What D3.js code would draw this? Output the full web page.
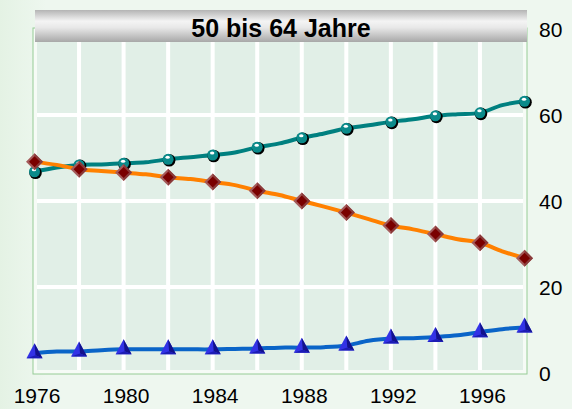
<!DOCTYPE html>
<html>
<head>
<meta charset="utf-8">
<script src="https://cdn.jsdelivr.net/npm/d3@7"></script>
<style>
  body { margin: 0; background: #eef7ef; }
  svg { display: block; font-family: "Liberation Sans", Arial, sans-serif; }
</style>
</head>
<body>
<div id="chart"></div>
<script>
// Data
const years = d3.range(1976, 1999);
const teal = [46.8, 47.8, 48.4, 48.5, 48.8, 49.0, 49.7, 50.2, 50.7, 51.3, 52.5, 53.4,
  54.7, 55.7, 56.9, 57.6, 58.4, 59.0, 59.8, 60.2, 60.5, 62.3, 63.2];
const orange = [49.1, 48.4, 47.4, 47.0, 46.6, 46.2, 45.5, 45.1, 44.4, 43.7, 42.4, 41.4,
  40.0, 38.7, 37.3, 35.8, 34.3, 33.4, 32.3, 31.1, 30.3, 28.3, 26.7];
const blue = [4.6, 5.0, 5.0, 5.3, 5.5, 5.5, 5.5, 5.5, 5.5, 5.6, 5.7, 5.9,
  5.9, 6.0, 6.4, 7.5, 8.0, 8.1, 8.4, 8.8, 9.5, 10.2, 10.6];
const xTicks = [1976, 1980, 1984, 1988, 1992, 1996];
const yTicks = [0, 20, 40, 60, 80];
const gridYears = [1978, 1980, 1982, 1984, 1986, 1988, 1990, 1992, 1994, 1996];
const title = "50 bis 64 Jahre";

const W = 572, H = 409;
const svg = d3.select("#chart").append("svg").attr("width", W).attr("height", H);

const defs = svg.append("defs");
const bg = defs.append("linearGradient").attr("id", "bg").attr("x1", 0).attr("x2", 1);
bg.append("stop").attr("offset", 0).attr("stop-color", "#e4f2e4");
bg.append("stop").attr("offset", 0.08).attr("stop-color", "#eef7ef");
bg.append("stop").attr("offset", 1).attr("stop-color", "#eef7ef");
const tg = defs.append("linearGradient").attr("id", "tg").attr("x1", 0).attr("x2", 0).attr("y1", 0).attr("y2", 1);
tg.append("stop").attr("offset", 0).attr("stop-color", "#b4b4b4");
tg.append("stop").attr("offset", 0.35).attr("stop-color", "#f4f4f4");
tg.append("stop").attr("offset", 0.55).attr("stop-color", "#e8e8e8");
tg.append("stop").attr("offset", 1).attr("stop-color", "#a8a8a8");

svg.append("rect").attr("width", W).attr("height", H).attr("fill", "url(#bg)");

// Scales
const x = d3.scaleLinear().domain([1976, 1998]).range([34.5, 524.5]);
const y = d3.scaleLinear().domain([0, 80]).range([373, 29]);

// Plot area
svg.append("rect")
  .attr("x", 33).attr("y", 28).attr("width", 494).attr("height", 346)
  .attr("fill", "#f6fbf6").attr("stroke", "#96cc96").attr("stroke-width", 1);
svg.append("rect")
  .attr("x", 37).attr("y", 28).attr("width", 486).attr("height", 342)
  .attr("fill", "#e1efe7");

// Grid
svg.append("g").selectAll("line").data(gridYears).join("line")
  .attr("x1", d => x(d)).attr("x2", d => x(d))
  .attr("y1", 28).attr("y2", 370)
  .attr("stroke", "#fff").attr("stroke-width", 4);
svg.append("g").selectAll("line").data([20, 40, 60]).join("line")
  .attr("x1", 37).attr("x2", 523)
  .attr("y1", d => y(d)).attr("y2", d => y(d))
  .attr("stroke", "#fff").attr("stroke-width", 4);

// Lines
const line = d3.line().x((d, i) => x(years[i])).y(d => y(d)).curve(d3.curveCatmullRom);
const series = [
  { values: teal, color: "#008080" },
  { values: orange, color: "#ff8000" },
  { values: blue, color: "#0a64c8" }
];
series.forEach(s => {
  svg.append("path").datum(s.values)
    .attr("fill", "none").attr("stroke", s.color)
    .attr("stroke-width", 4).attr("stroke-linejoin", "round")
    .attr("d", line);
});

// Teal circle markers
const cm = svg.append("g").selectAll("g")
  .data(teal.map((v, i) => [years[i], v]).filter(d => d[0] % 2 === 0))
  .join("g").attr("transform", d => `translate(${x(d[0])},${y(d[1])})`);
cm.append("circle").attr("cx", 1).attr("cy", 1).attr("r", 6.3).attr("fill", "#000");
cm.append("circle").attr("r", 5.5).attr("fill", "#0a8a8a");
cm.append("ellipse").attr("cx", -0.5).attr("cy", -2).attr("rx", 2.2).attr("ry", 1.5).attr("fill", "#fff");

// Orange diamond markers
const dm = svg.append("g").selectAll("g")
  .data(orange.map((v, i) => [years[i], v]).filter(d => d[0] % 2 === 0))
  .join("g").attr("transform", d => `translate(${x(d[0])},${y(d[1])})`);
dm.append("path").attr("d", "M0,-8.5L8.5,0L0,8.5L-8.5,0Z").attr("fill", "#a45a5a");
dm.append("path").attr("d", "M0,-8.5L8.5,0L0,8.5Z").attr("fill", "#8a3a3a");
dm.append("path").attr("d", "M0,-5.5L5.5,0L0,5.5L-5.5,0Z").attr("fill", "#7a0000");

// Blue triangle markers
const tm = svg.append("g").selectAll("g")
  .data(blue.map((v, i) => [years[i], v]).filter(d => d[0] % 2 === 0))
  .join("g").attr("transform", d => `translate(${x(d[0])},${y(d[1])})`);
tm.append("path").attr("d", "M0,-10L8,5L-8,5Z").attr("fill", "#3232e6");
tm.append("path").attr("d", "M0,-10L8,5L1,2Z").attr("fill", "#12128c");
tm.append("path").attr("d", "M-8,5L8,5L1,2Z").attr("fill", "#1c1cb4");

// Axes
const xAxis = svg.append("g").attr("transform", "translate(2,373)")
  .call(d3.axisBottom(x).tickValues(xTicks).tickFormat(d3.format("d")).tickSize(0).tickPadding(15));
const yAxis = svg.append("g").attr("transform", "translate(524.5,1)")
  .call(d3.axisRight(y).tickValues(yTicks).tickSize(0).tickPadding(14.5));
[xAxis, yAxis].forEach(a => {
  a.select(".domain").remove();
  a.selectAll("text").attr("fill", "#000")
    .style("font-size", "21px").style("font-family", "'Liberation Sans', Arial, sans-serif");
});

// Title box
svg.append("rect").attr("x", 35).attr("y", 10).attr("width", 492).attr("height", 32)
  .attr("fill", "url(#tg)");
svg.append("text").attr("x", 281).attr("y", 37)
  .attr("text-anchor", "middle")
  .style("font-size", "25px").style("font-weight", "bold")
  .text(title);
</script>
</body>
</html>
